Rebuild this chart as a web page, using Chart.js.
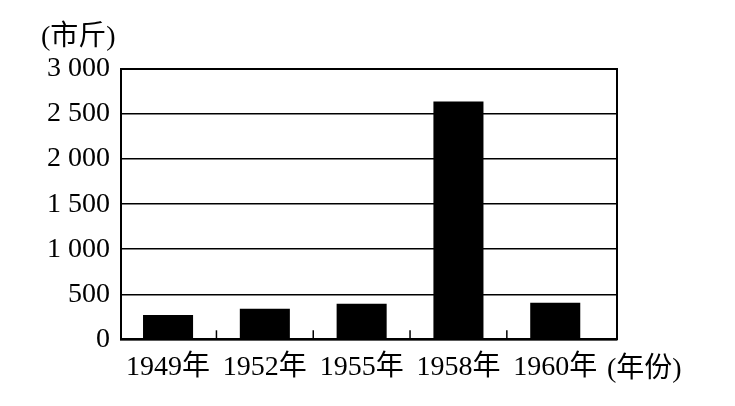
<!DOCTYPE html>
<html>
<head>
<meta charset="utf-8">
<script src="https://cdn.jsdelivr.net/npm/chart.js@4.4.1/dist/chart.umd.min.js"></script>
<style>
  html, body { margin: 0; padding: 0; background: #fff; }
  #wrap { width: 735px; height: 406px; }
</style>
</head>
<body>
<div id="wrap"><canvas id="c" width="735" height="406"></canvas></div>
<script>
// ---- data ----
const categories = ['1949年', '1952年', '1955年', '1958年', '1960年'];
const values = [270, 340, 395, 2640, 405];
const yTickValues = [0, 500, 1000, 1500, 2000, 2500, 3000];
const yTickLabels = ['0', '500', '1 000', '1 500', '2 000', '2 500', '3 000'];
const yUnit = '(市斤)';
const xUnit = '(年份)';

const FONT = '"Liberation Serif", "Noto Sans CJK SC", serif';
const FS = 28;

const extras = {
  id: 'extras',
  afterDraw(chart) {
    const ctx = chart.ctx;
    const a = chart.chartArea;
    const xs = chart.scales.x;
    ctx.save();
    ctx.strokeStyle = '#000';
    ctx.lineWidth = 2;
    ctx.strokeRect(a.left, a.top, a.right - a.left, a.bottom - a.top);
    // inner tick marks between categories
    ctx.lineWidth = 1.5;
    for (let i = 0; i < categories.length - 1; i++) {
      const px = xs.getPixelForValue(i + 0.5);
      ctx.beginPath();
      ctx.moveTo(px, a.bottom);
      ctx.lineTo(px, a.bottom - 9);
      ctx.stroke();
    }
    ctx.fillStyle = '#000';
    ctx.font = FS + 'px ' + FONT;
    ctx.textAlign = 'left';
    ctx.textBaseline = 'middle';
    ctx.fillText(yUnit, 41, 38);
    ctx.textBaseline = 'alphabetic';
    ctx.fillText(xUnit, 607, 377);
    ctx.restore();
  }
};

new Chart(document.getElementById('c'), {
  type: 'bar',
  data: {
    datasets: [{
      data: values.map((v, i) => ({ x: i, y: v })),
      backgroundColor: '#000',
      borderWidth: 0,
      barPercentage: 0.517,
      categoryPercentage: 1
    }]
  },
  options: {
    responsive: false,
    animation: false,
    devicePixelRatio: 1,
    layout: { padding: { left: 0, right: 118, top: 69, bottom: 0 } },
    plugins: { legend: { display: false }, tooltip: { enabled: false } },
    scales: {
      x: {
        type: 'linear',
        offset: false,
        min: -0.486,
        max: 4.638,
        afterBuildTicks(scale) {
          scale.ticks = categories.map((c, i) => ({ value: i }));
        },
        afterFit(scale) { scale.height = 66.7; },
        ticks: {
          callback: (v) => categories[v] !== undefined ? categories[v] : '',
          color: '#000',
          font: { family: FONT, size: FS },
          padding: 12,
          maxRotation: 0,
          autoSkip: false
        },
        grid: { display: false, drawTicks: false, offset: false },
        border: { display: true, color: '#000', width: 2 }
      },
      y: {
        min: 0,
        max: 3000,
        afterBuildTicks(scale) {
          scale.ticks = yTickValues.map(v => ({ value: v }));
        },
        afterFit(scale) { scale.width = 121; },
        ticks: {
          callback: (v) => {
            const k = yTickValues.indexOf(v);
            return k >= 0 ? yTickLabels[k] : '';
          },
          color: '#000',
          font: { family: FONT, size: FS },
          padding: 11
        },
        grid: { color: '#000', lineWidth: 1.5, drawTicks: false },
        border: { display: true, color: '#000', width: 2 }
      }
    }
  },
  plugins: [extras]
});
</script>
</body>
</html>
